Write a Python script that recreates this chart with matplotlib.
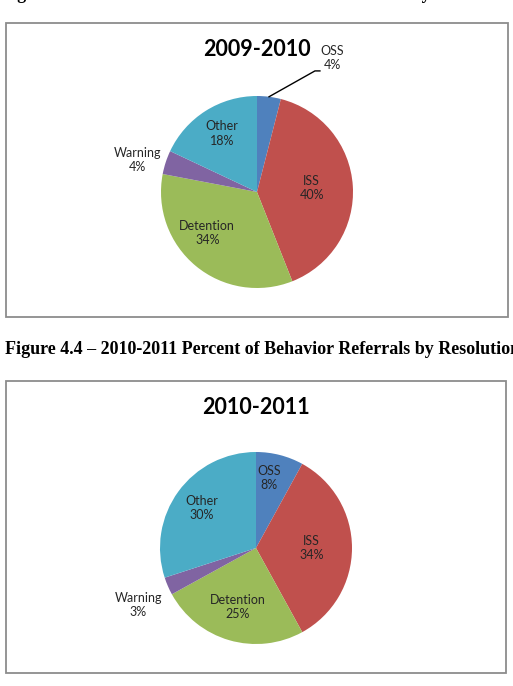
import numpy as np
import matplotlib.pyplot as plt
from matplotlib.patches import Rectangle

# canvas in pixels
W, H = 513, 686

categories = ['OSS', 'ISS', 'Detention', 'Warning', 'Other']
pct_0910 = [4, 40, 34, 4, 18]
pct_1011 = [8, 34, 25, 3, 30]
colors = ['#4F81BD', '#C0504D', '#9BBB59', '#8064A2', '#4BACC6']

# label placement: (distance in radii, angle shift from wedge middle)
lbl_0910 = [(1.60, -22), (0.57, 0.4), (0.67, -11), (1.29, 3), (0.71, -1.7)]
lbl_1011 = [(0.74, 4), (0.58, 0), (0.64, -0.8), (1.36, 2.4), (0.70, -0.5)]

LABEL_COLOR = '#262626'


def draw_pie(ax, values, cx, cy, r, title, title_y, placement, leader_idx=None):
    wedges, _ = ax.pie(values, colors=colors, startangle=90, counterclock=False,
                       center=(cx, H - cy), radius=r,
                       wedgeprops=dict(linewidth=0))
    ax.text(cx, H - title_y, title, ha='center', va='center',
            fontsize=15.5, fontweight='bold', family='Lato', color='black')
    for i, (w, name, v) in enumerate(zip(wedges, categories, values)):
        mid = np.deg2rad((w.theta1 + w.theta2) / 2 + placement[i][1])
        d = placement[i][0] * r
        lx = cx + d * np.cos(mid)
        ly = H - cy + d * np.sin(mid)
        ax.text(lx, ly, f'{name}\n{v}%', ha='center', va='center',
                fontsize=9, family='Lato', color=LABEL_COLOR, linespacing=1.25)
        if i == leader_idx:
            m0 = np.deg2rad((w.theta1 + w.theta2) / 2)
            x0 = cx + r * np.cos(m0)
            y0 = H - cy + r * np.sin(m0)
            x1, y1 = lx - 17, ly - 13
            ax.plot([x0, x1, x1 + 5], [y0, y1, y1], color='black', lw=1.0)


fig = plt.figure(figsize=(W / 100, H / 100), dpi=100)
ax = fig.add_axes([0, 0, 1, 1])

# chart frames
ax.add_patch(Rectangle((6, H - 317), 502, 294, fill=False,
                       edgecolor='#8C8C8C', lw=1.3))
ax.add_patch(Rectangle((6, H - 673), 500, 292, fill=False,
                       edgecolor='#8C8C8C', lw=1.3))

draw_pie(ax, pct_0910, 257, 192, 96, '2009-2010', 49, lbl_0910, leader_idx=0)
draw_pie(ax, pct_1011, 256, 548, 96, '2010-2011', 407, lbl_1011)

# figure captions from the document page (cropped by the page edge as in the scan)
ax.text(1, H + 1, 'Figure 4.3 \u2013 2009-2010 Percent of Behavior Referrals by Resolution',
        ha='left', va='baseline', fontsize=13, fontweight='bold',
        family='Liberation Serif', color='black', clip_on=True)
ax.text(5, H - 354, 'Figure 4.4 \u2013 2010-2011 Percent of Behavior Referrals by Resolution',
        ha='left', va='baseline', fontsize=13, fontweight='bold',
        family='Liberation Serif', color='black', clip_on=True)

ax.set_xlim(0, W)
ax.set_ylim(0, H)
ax.set_aspect('equal')
ax.axis('off')

fig.savefig('out.png', dpi=100)
